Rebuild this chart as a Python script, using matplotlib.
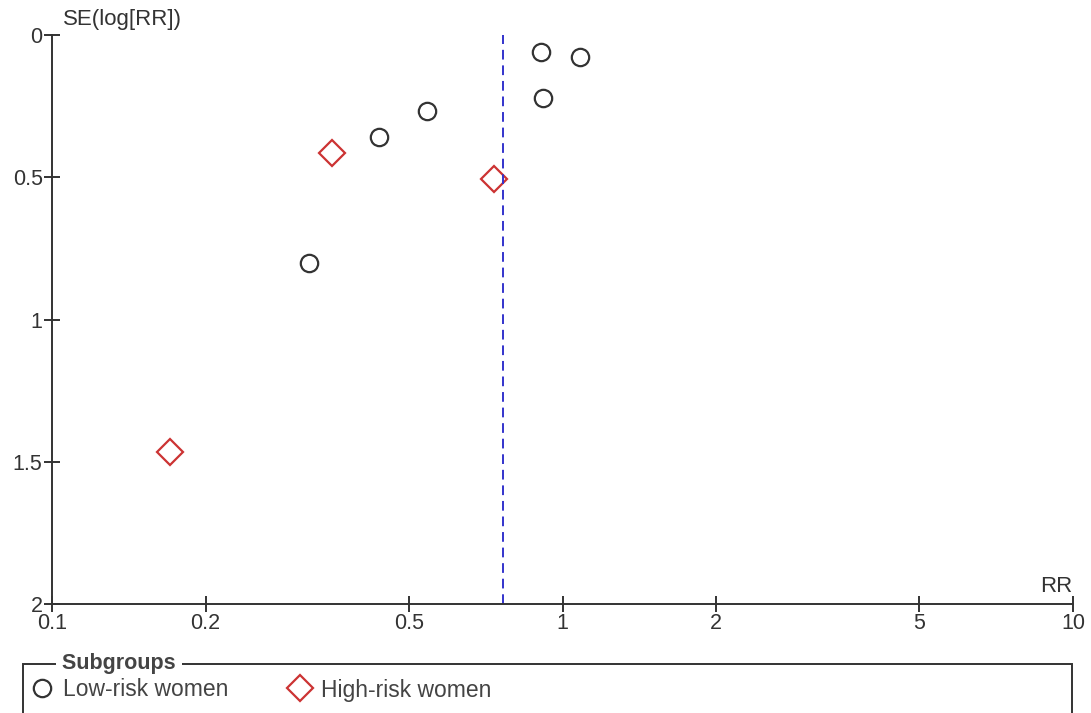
import matplotlib.pyplot as plt
from matplotlib.lines import Line2D
from matplotlib.patches import Rectangle

plt.rcParams['font.family'] = ['Liberation Sans', 'DejaVu Sans']

# study estimates: risk ratio and standard error of log(RR)
low_rr = [0.908, 1.082, 0.917, 0.543, 0.437, 0.319]
low_se = [0.060, 0.078, 0.221, 0.267, 0.359, 0.801]
high_rr = [0.354, 0.734, 0.170]
high_se = [0.415, 0.505, 1.466]
pooled_rr = 0.765

x_ticks = [0.1, 0.2, 0.5, 1, 2, 5, 10]
x_labels = ['0.1', '0.2', '0.5', '1', '2', '5', '10']
y_ticks = [0, 0.5, 1, 1.5, 2]
y_labels = ['0', '0.5', '1', '1.5', '2']

W, H = 1091, 713
dark = '#333333'
red = '#cc3333'
blue = '#3333cc'

fig = plt.figure(figsize=(W / 100, H / 100), dpi=100)
ax = fig.add_axes([52 / W, (H - 604) / H, (1073 - 52) / W, (604 - 35) / H])

ax.plot(low_rr, low_se, 'o', ms=12.5, mfc='none', mec=dark, mew=1.6, clip_on=False)
ax.plot(high_rr, high_se, 'D', ms=13, mfc='none', mec=red, mew=1.6, clip_on=False)
ax.axvline(pooled_rr, color=blue, lw=1.4, ls=(0, (5, 3)))

ax.set_xscale('log')
ax.set_xlim(0.1, 10)
ax.set_ylim(2, 0)
ax.set_xticks(x_ticks)
ax.set_xticklabels(x_labels)
ax.xaxis.set_minor_locator(plt.NullLocator())
ax.set_yticks(y_ticks)
ax.set_yticklabels(y_labels)

for side in ['top', 'right']:
    ax.spines[side].set_visible(False)
for side in ['left', 'bottom']:
    ax.spines[side].set_color(dark)
    ax.spines[side].set_linewidth(1.4)
ax.tick_params(direction='inout', length=11.5, width=1.4, color=dark,
               labelcolor=dark, labelsize=15.5)
ax.tick_params(axis='x', pad=1)
ax.tick_params(axis='y', pad=1)

fig.text(63 / W, 1 - 19 / H, 'SE(log[RR])', fontsize=16, color=dark,
         ha='left', va='center')
fig.text(1072 / W, 1 - 586 / H, 'RR', fontsize=16, color=dark,
         ha='right', va='center')

# legend box with the title set into the top border; bottom edge runs off the canvas
fig.add_artist(Rectangle((23 / W, 1 - 720 / H), (1072 - 23) / W, (720 - 664) / H,
                         transform=fig.transFigure, fill=False, ec=dark, lw=1.4))
fig.text(56 / W, 1 - 663 / H, ' Subgroups ', fontsize=15.5, fontweight='bold',
         color='#444444', ha='left', va='center',
         bbox=dict(fc='white', ec='none', pad=0))

handles = [
    Line2D([], [], ls='none', marker='o', ms=12.5, mfc='none', mec=dark, mew=1.6),
    Line2D([], [], ls='none', marker='D', ms=13, mfc='none', mec=red, mew=1.6),
]
leg = fig.legend(handles, ['Low-risk women', 'High-risk women'], ncol=2,
                 loc='center left', bbox_to_anchor=(30.5 / W, 1 - 690 / H),
                 frameon=False, fontsize=16.5, handlelength=1.0,
                 handletextpad=0.42, columnspacing=2.64, borderaxespad=0,
                 borderpad=0)
for t in leg.get_texts():
    t.set_color('#444444')

fig.savefig('out.png', dpi=100)
